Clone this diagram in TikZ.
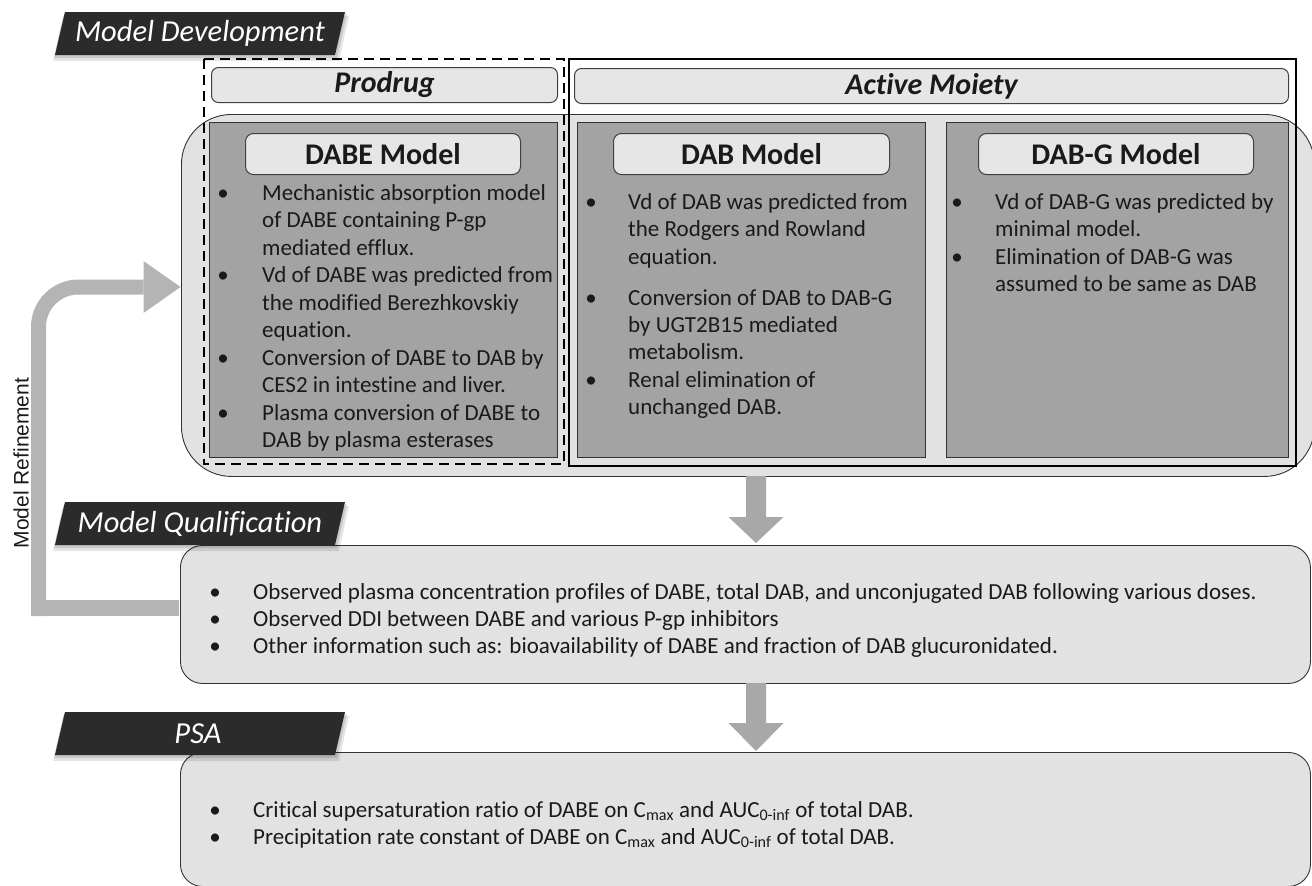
\documentclass[tikz,border=0pt]{standalone}
\usepackage{fontspec}
\setmainfont{Carlito}[Ligatures=NoCommon]
\newfontfamily\arialf{Liberation Sans}
\usetikzlibrary{calc}
\definecolor{bigfill}{HTML}{E2E2E2}
\definecolor{panelfill}{HTML}{A3A3A3}
\definecolor{hdrfill}{HTML}{E6E6E6}
\definecolor{labfill}{HTML}{2B2B2B}
\definecolor{arrfill}{HTML}{A8A8A8}
\definecolor{reffill}{HTML}{B4B4B4}
\definecolor{txtcol}{HTML}{1A1A1A}
\newcounter{lnc}
\newcommand\tl[3]{\stepcounter{lnc}\node[txt,anchor=base west] (t\thelnc) at (#1,#2) {#3};}
\newcommand\bl[2]{\stepcounter{lnc}\node[txt,anchor=base] (b\thelnc) at (#1,#2) {•};}
\newcommand\ql[3]{\stepcounter{lnc}\node[qtxt,anchor=base west] (q\thelnc) at (#1,#2) {#3};}
\newcommand\qb[2]{\stepcounter{lnc}\node[qtxt,anchor=base] (qb\thelnc) at (#1,#2) {•};}
\newcommand\labelshape[4]{% name, top y, text, text x
  \fill[black,opacity=0.10] (53,#2+49) -- (63,#2+4) -- (349,#2+4) -- (339,#2+49) -- cycle;
  \fill[black,opacity=0.12] (54,#2+46) -- (64,#2+2) -- (347,#2+2) -- (337,#2+46) -- cycle;
  \fill[labfill] (55,#2+43) -- (65,#2) -- (345,#2) -- (335,#2+43) -- cycle;
  \node[labtxt] (#1) at (#4,#2+21.5) {#3};}
\begin{document}
\begin{tikzpicture}[x=1pt,y=-1pt,
  txt/.style={inner sep=0pt,font=\fontsize{23}{27}\selectfont,text=txtcol},
  qtxt/.style={inner sep=0pt,font=\fontsize{23}{27}\selectfont,text=txtcol},
  labtxt/.style={inner sep=0pt,font=\fontsize{30.5}{34}\selectfont\itshape,text=white},
  bigbox/.style={draw=black!80,fill=bigfill,line width=0.9pt,inner sep=0pt,anchor=north west},
  panel/.style={draw=black!80,fill=panelfill,line width=1pt,inner sep=0pt,anchor=north west},
  hdr/.style={draw=black!75,fill=hdrfill,line width=1pt,rounded corners=7pt,inner sep=0pt,anchor=north west,
     font=\fontsize{30}{34}\selectfont\bfseries\itshape,text=txtcol},
  titlebox/.style={draw=black!75,fill=hdrfill,line width=1pt,rounded corners=8pt,inner sep=0pt,anchor=north west,
     font=\fontsize{30}{34}\selectfont\bfseries,text=txtcol},
  blockarrow/.style={fill=arrfill},
]
\useasboundingbox (0,0) rectangle (1312,886);

% ---------- Model development ----------
\node[bigbox,rounded corners=50pt,minimum width=1133pt,minimum height=362pt] (big) at (181,114) {};

\node[panel,minimum width=348pt,minimum height=335pt] (pdabe) at (209,122) {};
\node[panel,minimum width=348pt,minimum height=335pt] (pdab) at (577,122) {};
\node[panel,minimum width=342pt,minimum height=335pt] (pdabg) at (946,122) {};

\draw[black,line width=2.4pt,dash pattern=on 10pt off 6pt] (204,59) rectangle (564,464);
\node[draw=black,line width=1.6pt,inner sep=0pt,anchor=north west,minimum width=727pt,minimum height=407pt] (active) at (568,58) {};

\node[hdr,minimum width=346pt,minimum height=35pt] (hprod) at (211,67) {Prodrug};
\node[hdr,minimum width=714pt,minimum height=35pt] (hact) at (574,68) {Active Moiety};

\node[titlebox,minimum width=275pt,minimum height=41pt] (tdabe) at (245,133) {DABE Model};
\node[titlebox,minimum width=276pt,minimum height=41pt] (tdab) at (613,133) {DAB Model};
\node[titlebox,minimum width=275pt,minimum height=41pt] (tdabg) at (978,133) {DAB-G Model};

% DABE text
\bl{223}{200}
\tl{262}{200}{Mechanistic absorption model}
\tl{262}{227.5}{of DABE containing P-gp}
\tl{262}{255}{mediated efflux.}
\bl{223}{282.5}
\tl{262}{282.5}{Vd of DABE was predicted from}
\tl{262}{310}{the modified Berezhkovskiy}
\tl{262}{337.5}{equation.}
\bl{223}{365}
\tl{262}{365}{Conversion of DABE to DAB by}
\tl{262}{392.5}{CES2 in intestine and liver.}
\bl{223}{420}
\tl{262}{420}{Plasma conversion of DABE to}
\tl{262}{447.5}{DAB by plasma esterases}

% DAB text
\bl{591}{209}
\tl{628}{209}{Vd of DAB was predicted from}
\tl{628}{236.5}{the Rodgers and Rowland}
\tl{628}{264}{equation.}
\bl{591}{305}
\tl{628}{305}{Conversion of DAB to DAB-G}
\tl{628}{332}{by UGT2B15 mediated}
\tl{628}{359}{metabolism.}
\bl{591}{387}
\tl{628}{387}{Renal elimination of}
\tl{628}{414}{unchanged DAB.}

% DAB-G text
\bl{957}{209}
\tl{995}{209}{Vd of DAB-G was predicted by}
\tl{995}{236.5}{minimal model.}
\bl{957}{264}
\tl{995}{264}{Elimination of DAB-G was}
\tl{995}{291.5}{assumed to be same as DAB}

\labelshape{lmd}{12}{Model Development}{200}

% ---------- Model qualification ----------
\node[bigbox,rounded corners=22pt,minimum width=1130pt,minimum height=138pt] (mq) at (180,545) {};
\qb{215}{599}
\ql{253}{599}{Observed plasma concentration profiles of DABE, total DAB, and unconjugated DAB following various doses.}
\qb{215}{626}
\ql{253}{626}{Observed DDI between DABE and various P-gp inhibitors}
\qb{215}{653}
\ql{253}{653}{Other information such as: bioavailability of DABE and fraction of DAB glucuronidated.}
\labelshape{lmq}{502}{Model Qualification}{200}

% ---------- PSA ----------
\node[bigbox,rounded corners=22pt,minimum width=1130pt,minimum height=134pt] (psa) at (180,752) {};
\qb{215}{817}
\ql{253}{817}{Critical supersaturation ratio of DABE on C\textsubscript{max} and AUC\textsubscript{0-inf} of total DAB.}
\qb{215}{844}
\ql{253}{844}{Precipitation rate constant of DABE on C\textsubscript{max} and AUC\textsubscript{0-inf} of total DAB.}
\labelshape{lpsa}{712}{PSA}{198}

% ---------- down arrows ----------
\coordinate (a1s) at (756,476);
\coordinate (a1e) at (756,545);
\fill[blockarrow] ($(a1s)+(-10,0)$) -- ($(a1s)+(10,0)$) -- ($(a1e)+(10,-28)$) -- ($(a1e)+(27.5,-28)$)
  -- ($(a1e)+(0,-2)$) -- ($(a1e)+(-27.5,-28)$) -- ($(a1e)+(-10,-28)$) -- cycle;
\coordinate (a2s) at (756,683);
\coordinate (a2e) at (756,752);
\fill[blockarrow] ($(a2s)+(-10,0)$) -- ($(a2s)+(10,0)$) -- ($(a2e)+(10,-29)$) -- ($(a2e)+(27.5,-29)$)
  -- ($(a2e)+(0,-1)$) -- ($(a2e)+(-27.5,-29)$) -- ($(a2e)+(-10,-29)$) -- cycle;

% ---------- refinement arrow ----------
\coordinate (rs) at (179,608);
\coordinate (rc) at (38.5,608);
\coordinate (re) at (180.5,287);
\draw[reffill,line width=16pt] (rs) -- ($(rc)+(-7.5,0)$);
\draw[reffill,line width=15pt,rounded corners=40pt] ($(rc)+(0,8)$) |- ($(re)+(-37,0)$);
\fill[reffill] ($(re)+(-37,-26)$) -- (re) -- ($(re)+(-37,26)$) -- cycle;
\node[font=\arialf\fontsize{21}{24}\selectfont,text=txtcol,rotate=90,inner sep=0pt] (mref) at (21,463) {Model Refinement};

\end{tikzpicture}
\end{document}
